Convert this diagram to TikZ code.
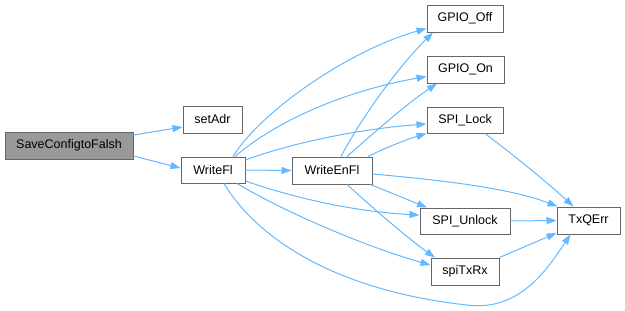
\documentclass[tikz,border=0pt]{standalone}
\usepackage{fontspec}
\setmainfont{Liberation Sans}
\usetikzlibrary{arrows.meta}
\definecolor{edgeblue}{HTML}{63B8FF}
\definecolor{boxline}{HTML}{666666}
\definecolor{rootfill}{HTML}{999999}
\begin{document}
\begin{tikzpicture}[x=1pt,y=-1pt,
  fn/.style={draw=boxline,line width=1pt,fill=white,inner sep=0pt,
    minimum height=27pt,font=\fontsize{12.5}{14}\selectfont},
  root/.style={fn,fill=rootfill},
  call/.style={draw=edgeblue,line width=1pt,
    -{Triangle[length=10pt,width=7pt,fill=edgeblue]}}]
\useasboundingbox (0,0) rectangle (625,311);

% functions
\node[root,minimum width=128pt] (save) at (69,145.5) {SaveConfigtoFalsh};
\node[fn,minimum width=59pt] (setadr) at (212.5,119.5) {setAdr};
\node[fn,minimum width=64pt,minimum height=26pt] (writefl) at (213,170) {WriteFl};
\node[fn,minimum width=80pt] (writeenfl) at (332,170.5) {WriteEnFl};
\node[fn,minimum width=76pt] (gpiooff) at (465,18.5) {GPIO\_Off};
\node[fn,minimum width=77pt] (gpioon) at (465.5,69.5) {GPIO\_On};
\node[fn,minimum width=76pt,minimum height=26pt] (spilock) at (465,120) {SPI\_Lock};
\node[fn,minimum width=90pt,minimum height=26pt] (spiunlock) at (465,221) {SPI\_Unlock};
\node[fn,minimum width=68pt] (spitxrx) at (465,271.5) {spiTxRx};
\node[fn,minimum width=63pt] (txqerr) at (588.5,220.5) {TxQErr};

% calls from SaveConfigtoFalsh
\draw[call] ([yshift=10.5]save.east) -- ([yshift=-7.5]setadr.west);
\draw[call] ([yshift=-10.5]save.east) -- ([yshift=2]writefl.west);

% calls from WriteFl
\draw[call] (writefl.east) -- (writeenfl.west);
\draw[call] ([xshift=20]writefl.north) .. controls (262,110) and (350,50) .. ([yshift=-10]gpiooff.west);
\draw[call] ([xshift=22]writefl.north) .. controls (280,118) and (350,90) .. ([yshift=-7]gpioon.west);
\draw[call] ([yshift=10]writefl.east) .. controls (300,140) and (370,128) .. ([yshift=-4]spilock.west);
\draw[call] ([yshift=-11]writefl.east) .. controls (300,200) and (360,212) .. ([yshift=6]spiunlock.west);
\draw[call] ([xshift=24]writefl.south) .. controls (290,215) and (370,248) .. ([yshift=6.5]spitxrx.west);
\draw[call] ([xshift=11]writefl.south) .. controls (255,235) and (330,290) .. (467,305)
  .. controls (520,312) and (548,268) .. ([xshift=-18]txqerr.south);

% calls from WriteEnFl
\draw[call] ([xshift=9]writeenfl.north) .. controls (363,115) and (400,65) .. ([xshift=-32]gpiooff.south);
\draw[call] ([xshift=15]writeenfl.north) .. controls (368,138) and (405,105) .. ([xshift=-28.5]gpioon.south);
\draw[call] ([xshift=36]writeenfl.north) .. controls (385,148) and (405,140) .. (spilock.south west);
\draw[call] ([yshift=-3.5]writeenfl.east) .. controls (440,180) and (510,188) .. ([xshift=1]txqerr.north west);
\draw[call] ([xshift=-2]writeenfl.south east) -- ([xshift=-38]spiunlock.north);
\draw[call] ([xshift=15]writeenfl.south) .. controls (375,210) and (410,240) .. ([xshift=-30]spitxrx.north);

% calls reaching TxQErr
\draw[call] ([xshift=20]spilock.south) .. controls (520,160) and (550,185) .. ([xshift=-15]txqerr.north);
\draw[call] (spiunlock.east) -- (txqerr.west);
\draw[call] (spitxrx.north east) -- ([yshift=-12.5]txqerr.west);
\end{tikzpicture}
\end{document}
